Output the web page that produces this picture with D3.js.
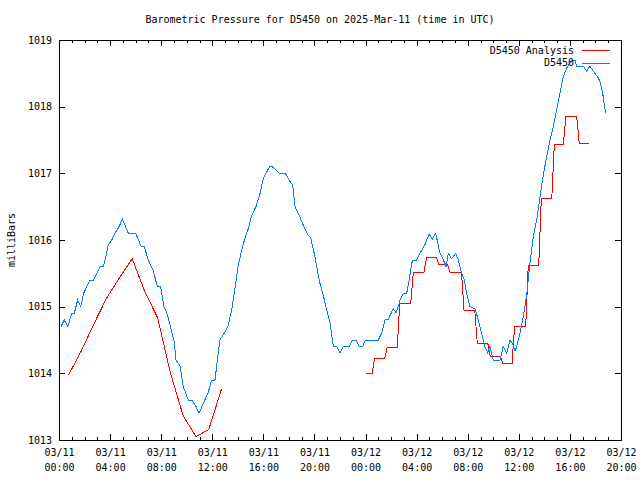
<!DOCTYPE html>
<html>
<head>
<meta charset="utf-8">
<script src="https://cdn.jsdelivr.net/npm/d3@7"></script>
<style>
  html, body { margin: 0; padding: 0; background: #fff; }
  svg { display: block; }
  text { font-family: "DejaVu Sans Mono", "Liberation Mono", monospace; font-size: 10px; fill: #000; }
</style>
</head>
<body>
<svg id="chart" width="640" height="480"></svg>
<script>
// ---------- data ----------
const chartTitle = "Barometric Pressure for D5450 on 2025-Mar-11 (time in UTC)";
const yAxisLabel = "milliBars";
const seriesNames = ["D5450 Analysis", "D5450"];

// x tick labels (every 4 hours from 03/11 00:00)
const xTickHours = [0, 4, 8, 12, 16, 20, 24, 28, 32, 36, 40, 44];
const xTickDates = ["03/11", "03/11", "03/11", "03/11", "03/11", "03/11", "03/12", "03/12", "03/12", "03/12", "03/12", "03/12"];
const xTickTimes = ["00:00", "04:00", "08:00", "12:00", "16:00", "20:00", "00:00", "04:00", "08:00", "12:00", "16:00", "20:00"];
const yTickValues = [1013, 1014, 1015, 1016, 1017, 1018, 1019];

// Observations D5450 (hours since 03/11 00:00 UTC, mb)
const obsHours = [0.16, 0.41, 0.70, 0.99, 1.20, 1.46, 1.70, 1.93, 2.43, 2.69, 3.21, 3.47, 3.73, 3.86, 4.13, 4.38, 4.64, 4.97,
  5.43, 6.00, 6.42, 6.68, 6.97, 7.38, 7.70, 7.96, 8.22, 8.49, 8.77, 9.00, 9.16, 9.47, 9.73, 10.12, 10.39, 10.73, 10.96,
  11.30, 11.69, 11.95, 12.21, 12.60, 12.99, 13.25, 13.52, 13.78, 14.04, 14.30, 14.56, 14.82, 15.09, 15.42, 15.74, 15.99,
  16.26, 16.52, 16.70, 17.25, 17.72, 18.08, 18.30, 18.48, 18.74, 19.13, 19.52, 19.71, 20.04, 20.30, 20.43, 20.69, 20.96,
  21.22, 21.48, 21.74, 22.00, 22.26, 22.73, 22.99, 23.25, 23.51, 23.78, 23.98, 25.00, 25.26, 25.52, 25.78, 26.17, 26.38,
  26.56, 26.70, 26.96, 27.22, 27.42, 27.61, 27.74, 28.00, 28.26, 28.65, 28.97, 29.23, 29.49, 29.83, 30.22, 30.30, 30.48,
  30.74, 31.06, 31.26, 31.53, 31.73, 31.92, 32.18, 32.57, 32.83, 33.09, 33.35, 33.56, 33.74, 34.00, 34.53, 34.78, 35.05,
  35.31, 35.50, 35.70, 35.83, 36.09, 36.35, 36.62, 36.87, 37.13, 37.40, 37.66, 37.92, 38.18, 38.44, 38.70, 38.96, 39.22,
  39.48, 39.80, 40.14, 40.40, 40.53, 41.05, 41.31, 41.57, 41.83, 42.22, 42.35, 42.57, 42.67, 42.80];
const obsValues = [1014.70, 1014.80, 1014.70, 1014.90, 1014.90, 1015.10, 1015.00, 1015.20, 1015.40, 1015.40, 1015.60, 1015.60, 1015.80, 1015.93, 1016.00, 1016.10, 1016.18, 1016.31,
  1016.10, 1016.10, 1015.91, 1015.90, 1015.71, 1015.54, 1015.30, 1015.30, 1015.00, 1014.88, 1014.66, 1014.50, 1014.20, 1014.12, 1013.80, 1013.60, 1013.60, 1013.50, 1013.40,
  1013.55, 1013.72, 1013.90, 1013.90, 1014.50, 1014.62, 1014.72, 1014.95, 1015.28, 1015.62, 1015.85, 1016.03, 1016.17, 1016.37, 1016.50, 1016.70, 1016.92,
  1017.02, 1017.11, 1017.10, 1017.00, 1017.00, 1016.88, 1016.82, 1016.50, 1016.40, 1016.22, 1016.07, 1016.03, 1015.75, 1015.47, 1015.35, 1015.17, 1014.95,
  1014.75, 1014.41, 1014.40, 1014.30, 1014.40, 1014.40, 1014.50, 1014.50, 1014.40, 1014.40, 1014.50, 1014.50, 1014.60, 1014.80, 1014.81, 1014.97, 1014.91,
  1015.00, 1015.10, 1015.20, 1015.20, 1015.40, 1015.65, 1015.70, 1015.70, 1015.80, 1015.93, 1016.09, 1016.01, 1016.10, 1015.80, 1015.65, 1015.60, 1015.80,
  1015.72, 1015.80, 1015.70, 1015.50, 1015.40, 1015.20, 1015.00, 1014.97, 1014.80, 1014.60, 1014.40, 1014.31, 1014.40, 1014.20, 1014.20, 1014.40, 1014.30,
  1014.50, 1014.45, 1014.33, 1014.40, 1014.60, 1014.85, 1015.18, 1015.65, 1016.05, 1016.30, 1016.65, 1016.98, 1017.25, 1017.50, 1017.70, 1017.95, 1018.20,
  1018.45, 1018.60, 1018.70, 1018.70, 1018.61, 1018.61, 1018.53, 1018.61, 1018.53, 1018.43, 1018.38, 1018.20, 1018.05, 1017.90];

// Analysis, first run (hourly values, linear)
const anaAHours = [0.73, 1.73, 2.73, 3.73, 4.73, 5.73, 6.73, 7.73, 8.73, 9.73, 10.73, 11.73, 12.73];
const anaAValues = [1013.97, 1014.33, 1014.74, 1015.13, 1015.43, 1015.72, 1015.22, 1014.83, 1014.00, 1013.36, 1013.05, 1013.16, 1013.77];

// Analysis, second run (held values; hour at which each value takes over)
const anaBHours = [24.00, 24.61, 25.60, 26.58, 27.64, 28.68, 29.65, 30.51, 31.61, 32.65, 33.67, 34.66, 35.57, 36.64, 37.66, 38.68, 39.59, 40.63];
const anaBValues = [1014.00, 1014.22, 1014.39, 1015.05, 1015.52, 1015.74, 1015.63, 1015.52, 1014.95, 1014.45, 1014.25, 1014.15, 1014.71, 1015.62, 1016.62, 1017.44, 1017.86, 1017.45];
const anaBEndHour = 41.52;

// ---------- chart ----------
const plot = { left: 59, right: 621, top: 40, bottom: 440 };
const colAna = "#ff0000", colObs = "#0080ff";

const svg = d3.select("#chart");
const x = d3.scaleLinear().domain([0, 44]).range([plot.left, plot.right]);
const y = d3.scaleLinear().domain([1013, 1019]).range([plot.bottom, plot.top]);

// title
svg.append("text").attr("x", 320).attr("y", 23).attr("text-anchor", "middle").text(chartTitle);

// y label
svg.append("text").attr("transform", "translate(15,240) rotate(-90)").attr("text-anchor", "middle").text(yAxisLabel);

const minorHours = d3.range(0, 45, 1);

function styleAxis(g) {
  g.select(".domain").remove();
  g.selectAll("line").attr("stroke", "#000").attr("shape-rendering", "crispEdges");
}

// bottom
svg.append("g").attr("transform", `translate(0,${plot.bottom})`)
  .call(d3.axisBottom(x).tickValues(minorHours).tickSize(-3).tickFormat(""))
  .call(styleAxis);
const bMaj = svg.append("g").attr("transform", `translate(0,${plot.bottom})`)
  .call(d3.axisBottom(x).tickValues(xTickHours).tickSize(-6).tickPadding(10).tickFormat(""))
  .call(styleAxis);
bMaj.selectAll(".tick text").each(function(d, i) {
  const t = d3.select(this);
  t.attr("y", 9).attr("dy", null).attr("font-family", null).attr("font-size", null).attr("fill", null);
  t.append("tspan").attr("x", 0).attr("dy", "0.71em").text(xTickDates[i]);
  t.append("tspan").attr("x", 0).attr("dy", "1.5em").text(xTickTimes[i]);
});
// top
svg.append("g").attr("transform", `translate(0,${plot.top})`)
  .call(d3.axisTop(x).tickValues(minorHours).tickSize(-3).tickFormat(""))
  .call(styleAxis);
svg.append("g").attr("transform", `translate(0,${plot.top})`)
  .call(d3.axisTop(x).tickValues(xTickHours).tickSize(-6).tickFormat(""))
  .call(styleAxis);
// left
const lAx = svg.append("g").attr("transform", `translate(${plot.left},0)`)
  .call(d3.axisLeft(y).tickValues(yTickValues).tickSize(-6).tickPadding(7).tickFormat(d3.format("d")))
  .call(styleAxis);
lAx.selectAll("text").attr("font-family", null).attr("font-size", null).attr("fill", null);
// right
svg.append("g").attr("transform", `translate(${plot.right},0)`)
  .call(d3.axisRight(y).tickValues(yTickValues).tickSize(-6).tickFormat(""))
  .call(styleAxis);

// frame
svg.append("rect").attr("x", plot.left + 0.5).attr("y", plot.top + 0.5)
  .attr("width", plot.right - plot.left).attr("height", plot.bottom - plot.top)
  .attr("fill", "none").attr("stroke", "#000").attr("shape-rendering", "crispEdges");

const line = d3.line().x(d => x(d[0])).y(d => y(d[1]));

// analysis A
svg.append("path").datum(anaAHours.map((h, i) => [h, anaAValues[i]]))
  .attr("d", line).attr("fill", "none").attr("stroke", colAna).attr("stroke-width", 1)
  .attr("shape-rendering", "crispEdges");

// analysis B: held values with short ramps between them
const rampHalf = 0.1;
const anaBPts = [];
anaBHours.forEach((h, i) => {
  if (i === 0) anaBPts.push([h, anaBValues[0]]);
  else {
    anaBPts.push([h - rampHalf, anaBValues[i - 1]]);
    anaBPts.push([h + rampHalf, anaBValues[i]]);
  }
});
anaBPts.push([anaBEndHour, anaBValues[anaBValues.length - 1]]);
svg.append("path").datum(anaBPts)
  .attr("d", line).attr("fill", "none").attr("stroke", colAna).attr("stroke-width", 1)
  .attr("shape-rendering", "crispEdges");

// observations
svg.append("path").datum(obsHours.map((h, i) => [h, obsValues[i]]))
  .attr("d", line).attr("fill", "none").attr("stroke", colObs).attr("stroke-width", 1)
  .attr("shape-rendering", "crispEdges");

// legend
const legend = svg.append("g");
[colAna, colObs].forEach((c, i) => {
  const ly = 50 + i * 12.5;
  legend.append("text").attr("x", 574).attr("y", ly).attr("dy", "0.35em").attr("text-anchor", "end").text(seriesNames[i]);
  legend.append("line").attr("x1", 582).attr("x2", 610).attr("y1", Math.round(ly) + 0.5).attr("y2", Math.round(ly) + 0.5)
    .attr("stroke", c).attr("stroke-width", 1).attr("shape-rendering", "crispEdges");
});
</script>
</body>
</html>
